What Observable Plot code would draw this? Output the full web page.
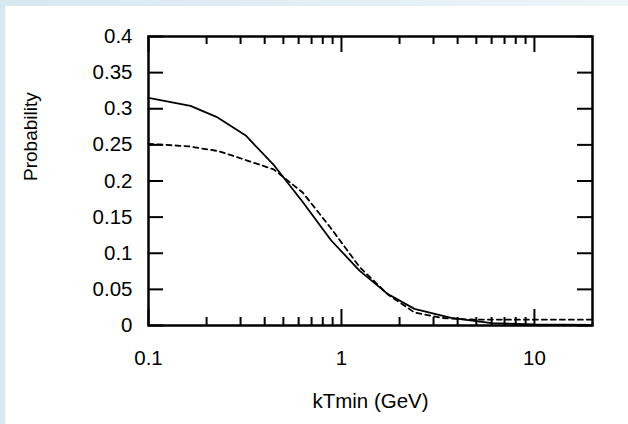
<!DOCTYPE html>
<html>
<head>
<meta charset="utf-8">
<script src="https://cdn.jsdelivr.net/npm/d3@7"></script>
<script src="https://cdn.jsdelivr.net/npm/@observablehq/plot@0.6"></script>
<style>
  html, body { margin: 0; padding: 0; }
  body {
    width: 628px; height: 424px; overflow: hidden;
    background: linear-gradient(to right, #d6e8f0, #eef5f9);
  }
  #chart { position: absolute; left: 5px; top: 6px; width: 623px; height: 418px; background: #fff; }
</style>
</head>
<body>
<div id="chart"></div>
<script>
// Probability versus minimum temperature threshold
const kTSolid = [0.1, 0.165, 0.228, 0.319, 0.448, 0.63, 0.883, 1.24, 1.74, 2.39, 3.7, 6, 10, 20];
const pSolid  = [0.315, 0.304, 0.288, 0.263, 0.2215, 0.171, 0.118, 0.076, 0.0435, 0.023, 0.0106, 0.0032, 0.0014, 0.001];

const kTDashed = [0.1, 0.161, 0.231, 0.319, 0.446, 0.63, 0.88, 1.24, 1.74, 2.39, 3.3, 4.5, 10, 20];
const pDashed  = [0.2515, 0.248, 0.2413, 0.229, 0.216, 0.184, 0.135, 0.081, 0.043, 0.018, 0.0105, 0.0083, 0.008, 0.008];

const xMajorTicks = [0.1, 1, 10];
const xMinorTicks = [0.2, 0.3, 0.4, 0.5, 0.6, 0.7, 0.8, 0.9, 2, 3, 4, 5, 6, 7, 8, 9];
const yTicks = [0, 0.05, 0.1, 0.15, 0.2, 0.25, 0.3, 0.35, 0.4];

const xLabel = "kTmin (GeV)";
const yLabel = "Probability";

const solid = kTSolid.map((x, i) => ({x, y: pSolid[i]}));
const dashed = kTDashed.map((x, i) => ({x, y: pDashed[i]}));

const W = 623, H = 418;
const mL = 143, mT = 30, mR = 36, mB = 99;
const fw = W - mL - mR, fh = H - mT - mB;
const major = 16, minor = 8, ytick = 15;
const tickStyle = {stroke: "#000", strokeWidth: 2};

const chart = Plot.plot({
  width: W, height: H,
  marginLeft: mL, marginTop: mT, marginRight: mR, marginBottom: mB,
  style: {fontFamily: "'Liberation Sans', Arial, sans-serif", fontSize: "20px", color: "#000", background: "#fff"},
  x: {type: "log", domain: [0.1, 20]},
  y: {domain: [0, 0.4]},
  marks: [
    // inward ticks on all four sides
    Plot.tickX(xMajorTicks, {x: d => d, insetTop: fh - major, ...tickStyle}),
    Plot.tickX(xMajorTicks, {x: d => d, insetBottom: fh - major, ...tickStyle}),
    Plot.tickX(xMinorTicks, {x: d => d, insetTop: fh - minor, ...tickStyle}),
    Plot.tickX(xMinorTicks, {x: d => d, insetBottom: fh - minor, ...tickStyle}),
    Plot.tickY(yTicks, {y: d => d, insetRight: fw - ytick, ...tickStyle}),
    Plot.tickY(yTicks, {y: d => d, insetLeft: fw - ytick, ...tickStyle}),
    Plot.axisX(xMajorTicks, {tickSize: 0, tickPadding: 25, tickFormat: d => String(d), label: null, fontSize: 20.5}),
    Plot.axisY(yTicks, {tickSize: 0, tickPadding: 16, tickFormat: d => String(d), label: null, fontSize: 20.5}),
    Plot.line(solid, {x: "x", y: "y", stroke: "#000", strokeWidth: 1.8}),
    Plot.line(dashed, {x: "x", y: "y", stroke: "#000", strokeWidth: 1.8, strokeDasharray: "5,4"}),
    Plot.frame({stroke: "#000", strokeWidth: 2.5}),
    Plot.text([yLabel], {frameAnchor: "left", dx: -118, rotate: -90, fontSize: 19, fill: "#000"}),
    Plot.text([xLabel], {frameAnchor: "bottom", dy: 82, fontSize: 20.5, fill: "#000"})
  ]
});
document.getElementById("chart").appendChild(chart);
</script>
</body>
</html>
